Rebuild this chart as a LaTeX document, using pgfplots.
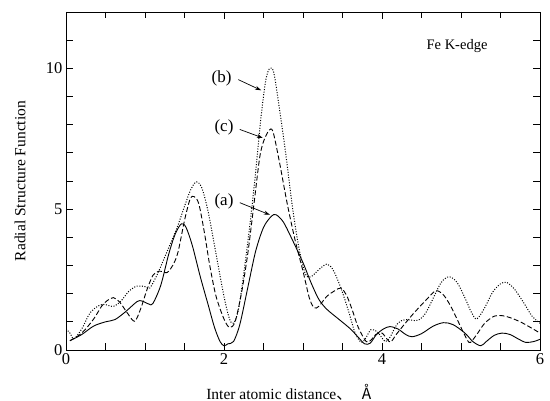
\documentclass[border=0pt]{standalone}
\usepackage{fontspec}
\setmainfont{Liberation Serif}
\newfontfamily\cjk{Noto Sans CJK JP}
\usepackage{pgfplots}
\pgfplotsset{compat=1.18}
\usetikzlibrary{arrows.meta}
\begin{document}
\begin{tikzpicture}
\useasboundingbox (0,0) rectangle (550pt,401pt);
\begin{axis}[
  at={(66pt,51pt)}, anchor=south west,
  scale only axis, width=474pt, height=338pt,
  xmin=0, xmax=6, ymin=0, ymax=12,
  xtick={0,2,4,6}, minor x tick num=3,
  ytick={0,5,10}, minor y tick num=4,
  tick align=inside, major tick length=7pt, minor tick length=6pt,
  tick style={black, line width=0.8pt},
  /pgf/number format/assume math mode=true,
  ticklabel style={font=\fontsize{16.5}{18}\selectfont},
  xlabel={Inter atomic distance{\cjk 、}\hspace{10pt}{\cjk Å}},
  ylabel={Radial Structure Function},
  every axis x label/.style={at={(axis description cs:0.47,-0.124)}, anchor=center, font=\fontsize{15.5}{17}\selectfont},
  every axis y label/.style={at={(axis description cs:-0.097,0.5)}, rotate=90, anchor=center, font=\fontsize{15.5}{17}\selectfont},
]
% (a) solid
\addplot[black, line width=0.9pt, smooth] coordinates {
(0.05,0.33)(0.2,0.55)(0.35,0.85)(0.5,1.0)(0.62,1.08)(0.75,1.35)(0.9,1.72)(0.96,1.74)
(1.05,1.63)(1.1,1.65)(1.2,2.3)(1.3,3.4)(1.38,4.1)(1.46,4.48)(1.52,4.35)(1.6,3.7)
(1.7,2.6)(1.8,1.6)(1.88,0.8)(1.95,0.3)(2.0,0.15)(2.05,0.22)(2.12,0.3)(2.2,0.9)
(2.3,2.2)(2.4,3.5)(2.5,4.35)(2.6,4.75)(2.66,4.8)(2.75,4.55)(2.85,4.0)(3.0,3.1)
(3.1,2.4)(3.2,1.8)(3.3,1.45)(3.45,1.1)(3.6,0.75)(3.7,0.45)(3.78,0.22)(3.85,0.24)
(3.93,0.55)(4.02,0.75)(4.1,0.83)(4.2,0.75)(4.3,0.55)(4.38,0.47)(4.5,0.58)(4.65,0.85)
(4.78,0.97)(4.9,0.9)(5.05,0.6)(5.15,0.3)(5.25,0.15)(5.32,0.3)(5.42,0.52)(5.52,0.6)
(5.62,0.55)(5.72,0.4)(5.82,0.27)(5.92,0.3)(6.0,0.38)
};
% (b) dotted
\addplot[black, line width=1pt, smooth, dash pattern=on 1pt off 1.6pt] coordinates {
(0.0,0.75)(0.05,0.6)(0.1,0.4)(0.2,0.75)(0.3,1.3)(0.4,1.55)(0.48,1.62)(0.6,1.55)
(0.7,1.75)(0.8,2.1)(0.9,2.27)(1.0,2.25)(1.06,2.2)(1.15,2.65)(1.25,3.3)(1.4,4.3)
(1.5,5.1)(1.58,5.7)(1.65,5.97)(1.72,5.75)(1.8,4.9)(1.9,3.4)(2.0,1.9)(2.07,1.1)
(2.12,0.95)(2.18,1.4)(2.25,2.7)(2.33,4.5)(2.4,6.3)(2.47,8.3)(2.53,9.6)(2.58,10.0)
(2.63,9.85)(2.7,8.6)(2.78,7.0)(2.87,5.0)(2.95,3.6)(3.03,2.7)(3.1,2.6)(3.2,2.85)
(3.3,3.05)(3.38,2.85)(3.48,2.2)(3.58,1.35)(3.66,0.6)(3.74,0.27)(3.8,0.45)(3.86,0.72)
(3.94,0.65)(4.04,0.3)(4.1,0.45)(4.2,0.95)(4.3,1.08)(4.45,1.05)(4.55,1.3)(4.65,1.85)
(4.75,2.4)(4.85,2.6)(4.95,2.4)(5.05,1.85)(5.13,1.35)(5.2,1.1)(5.3,1.5)(5.4,2.05)
(5.5,2.35)(5.58,2.4)(5.68,2.15)(5.8,1.65)(5.9,1.2)(6.0,0.95)
};
% (c) dashed
\addplot[black, line width=0.9pt, smooth, dash pattern=on 5pt off 2.5pt] coordinates {
(0.05,0.33)(0.2,0.6)(0.35,1.1)(0.45,1.55)(0.52,1.75)(0.6,1.86)(0.68,1.7)(0.78,1.3)
(0.87,1.02)(0.95,1.5)(1.02,2.1)(1.1,2.65)(1.18,2.8)(1.28,2.75)(1.36,3.05)(1.42,3.5)
(1.5,4.6)(1.57,5.35)(1.62,5.45)(1.68,5.2)(1.75,4.2)(1.82,3.0)(1.9,1.9)(2.0,1.1)
(2.07,0.8)(2.14,1.0)(2.22,2.0)(2.3,3.4)(2.38,5.2)(2.45,6.8)(2.5,7.4)(2.57,7.8)
(2.62,7.75)(2.7,6.7)(2.8,5.2)(2.9,3.9)(3.0,2.8)(3.08,1.85)(3.14,1.5)(3.2,1.55)
(3.3,1.9)(3.4,2.1)(3.48,2.2)(3.55,1.95)(3.62,1.45)(3.7,0.8)(3.8,0.3)(3.86,0.35)
(3.92,0.55)(4.0,0.6)(4.06,0.4)(4.11,0.28)(4.18,0.55)(4.28,0.9)(4.4,1.3)(4.55,1.75)
(4.68,2.1)(4.78,1.95)(4.88,1.5)(5.0,0.8)(5.08,0.35)(5.12,0.27)(5.2,0.55)(5.3,0.95)
(5.42,1.2)(5.52,1.22)(5.62,1.15)(5.75,1.0)(5.88,0.8)(6.0,0.6)
};
% tick marks on all four sides (drawn explicitly so that they always show)
\pgfplotsinvokeforeach{0.5,1,1.5,2,2.5,3,3.5,4,4.5,5,5.5}{
  \draw[black, line width=0.8pt] (axis cs:#1,0) -- ++(0pt,6.5pt);
  \draw[black, line width=0.8pt] (axis cs:#1,12) -- ++(0pt,-6.5pt);
}
\pgfplotsinvokeforeach{1,2,3,4,5,6,7,8,9,10,11}{
  \draw[black, line width=0.8pt] (axis cs:0,#1) -- ++(7pt,0pt);
  \draw[black, line width=0.8pt] (axis cs:6,#1) -- ++(-7pt,0pt);
}
% annotations
\node[font=\fontsize{17}{19}\selectfont] at (axis cs:1.97,9.65) {(b)};
\draw[-{Stealth[length=6pt,width=4pt]}, line width=0.7pt] (axis cs:2.18,9.6) -- (axis cs:2.47,9.22);
\node[font=\fontsize{17}{19}\selectfont] at (axis cs:2.0,7.9) {(c)};
\draw[-{Stealth[length=6pt,width=4pt]}, line width=0.7pt] (axis cs:2.2,7.83) -- (axis cs:2.49,7.53);
\node[font=\fontsize{17}{19}\selectfont] at (axis cs:2.0,5.29) {(a)};
\draw[-{Stealth[length=6pt,width=4pt]}, line width=0.7pt] (axis cs:2.2,5.23) -- (axis cs:2.58,4.8);
\node[font=\fontsize{14.5}{16}\selectfont] at (axis cs:4.95,10.78) {Fe K-edge};
\end{axis}
\end{tikzpicture}
\end{document}
